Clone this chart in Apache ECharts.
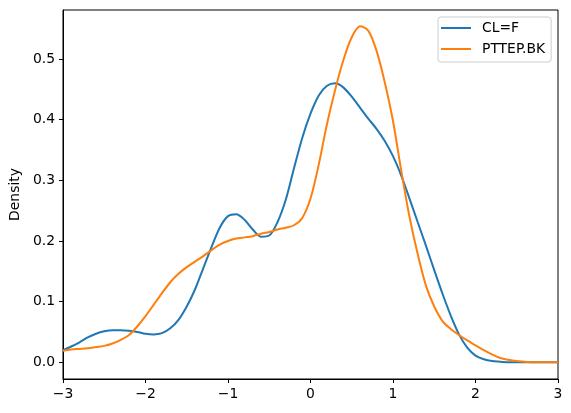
<!DOCTYPE html>
<html>
<head>
<meta charset="utf-8">
<script src="https://cdn.jsdelivr.net/npm/echarts@6/dist/echarts.min.js"></script>
<style>
  html, body { margin: 0; padding: 0; background: #fff; }
  #chart { width: 571px; height: 413px; }
</style>
</head>
<body>
<div id="chart"></div>
<script>
// x grid of the density estimate
const xs = [];
for (let i = -30; i <= 30; i++) xs.push(i / 10);

const seriesNames = ['CL=F', 'PTTEP.BK'];

// CL=F density at x = -3.0 ... 3.0 (step 0.1)
const clDensity = [
  0.020, 0.026, 0.033, 0.041, 0.047, 0.051, 0.053, 0.053, 0.052, 0.050,
  0.047, 0.046, 0.048, 0.056, 0.070, 0.092, 0.120, 0.155, 0.190, 0.222,
  0.241, 0.244, 0.235, 0.219, 0.207, 0.209, 0.231, 0.268, 0.320, 0.370,
  0.410, 0.440, 0.456, 0.460, 0.453, 0.438, 0.420, 0.402, 0.385, 0.365,
  0.340, 0.308, 0.270, 0.231, 0.192, 0.152, 0.113, 0.077, 0.046, 0.024,
  0.011, 0.005, 0.002, 0.001, 0.000, 0.000, 0.000, 0.000, 0.000, 0.000,
  0.000
];

// PTTEP.BK density
const pttepDensity = [
  0.019, 0.021, 0.022, 0.023, 0.025, 0.027, 0.031, 0.037, 0.045, 0.059,
  0.076, 0.095, 0.114, 0.132, 0.146, 0.157, 0.166, 0.175, 0.185, 0.194,
  0.200, 0.204, 0.206, 0.208, 0.212, 0.215, 0.219, 0.222, 0.226, 0.238,
  0.270, 0.326, 0.393, 0.450, 0.499, 0.536, 0.554, 0.547, 0.514, 0.462,
  0.398, 0.316, 0.240, 0.178, 0.126, 0.092, 0.068, 0.055, 0.045, 0.036,
  0.028, 0.020, 0.013, 0.007, 0.004, 0.002, 0.001, 0.000, 0.000, 0.000,
  0.000
];

const xTicks = [-3, -2, -1, 0, 1, 2, 3];
const yTicks = [0, 0.1, 0.2, 0.3, 0.4, 0.5];

const font = 'DejaVu Sans';
const minus = s => String(s).replace('-', '\u2212');

let mychart = echarts.init(document.getElementById('chart'));
mychart.setOption({
  backgroundColor: '#fff',
  animation: false,
  textStyle: { fontFamily: font },
  grid: {
    left: 61, right: 13, top: 10, bottom: 34,
    show: true, borderColor: '#000', borderWidth: 1, backgroundColor: 'transparent'
  },
  legend: {
    left: 438, top: 17,
    orient: 'vertical',
    icon: 'rect',
    itemWidth: 30, itemHeight: 2,
    itemGap: 7,
    padding: [4, 6, 6, 3],
    backgroundColor: 'rgba(255,255,255,0.8)',
    borderColor: '#cccccc', borderWidth: 1, borderRadius: 3,
    textStyle: { fontFamily: font, fontSize: 13.9, color: '#000', padding: [0, 0, 0, 6] },
    data: seriesNames
  },
  xAxis: {
    type: 'value',
    min: -3, max: 3,
    splitLine: { show: false },
    axisLine: { show: true, onZero: false, lineStyle: { color: '#000', width: 1 } },
    axisTick: { show: true, inside: false, length: 4, lineStyle: { color: '#000' }, customValues: xTicks },
    axisLabel: { color: '#000', fontSize: 13.9, margin: 8, customValues: xTicks, formatter: v => minus(v) }
  },
  yAxis: {
    type: 'value',
    min: -0.0276, max: 0.581,
    name: 'Density',
    nameLocation: 'middle',
    nameGap: 34,
    nameTextStyle: { color: '#000', fontSize: 13.9, fontFamily: font },
    splitLine: { show: false },
    axisLine: { show: true, onZero: false, lineStyle: { color: '#000', width: 1 } },
    axisTick: { show: true, inside: false, length: 4, lineStyle: { color: '#000' }, customValues: yTicks },
    axisLabel: { color: '#000', fontSize: 13.9, margin: 8, customValues: yTicks, formatter: v => v.toFixed(1) }
  },
  series: [
    {
      name: seriesNames[0],
      type: 'line',
      data: xs.map((x, i) => [x, clDensity[i]]),
      smooth: 0.3,
      showSymbol: false,
      color: '#1f77b4',
      lineStyle: { width: 2, color: '#1f77b4' }
    },
    {
      name: seriesNames[1],
      type: 'line',
      data: xs.map((x, i) => [x, pttepDensity[i]]),
      smooth: 0.3,
      showSymbol: false,
      color: '#ff7f0e',
      lineStyle: { width: 2, color: '#ff7f0e' }
    }
  ]
});
</script>
</body>
</html>
